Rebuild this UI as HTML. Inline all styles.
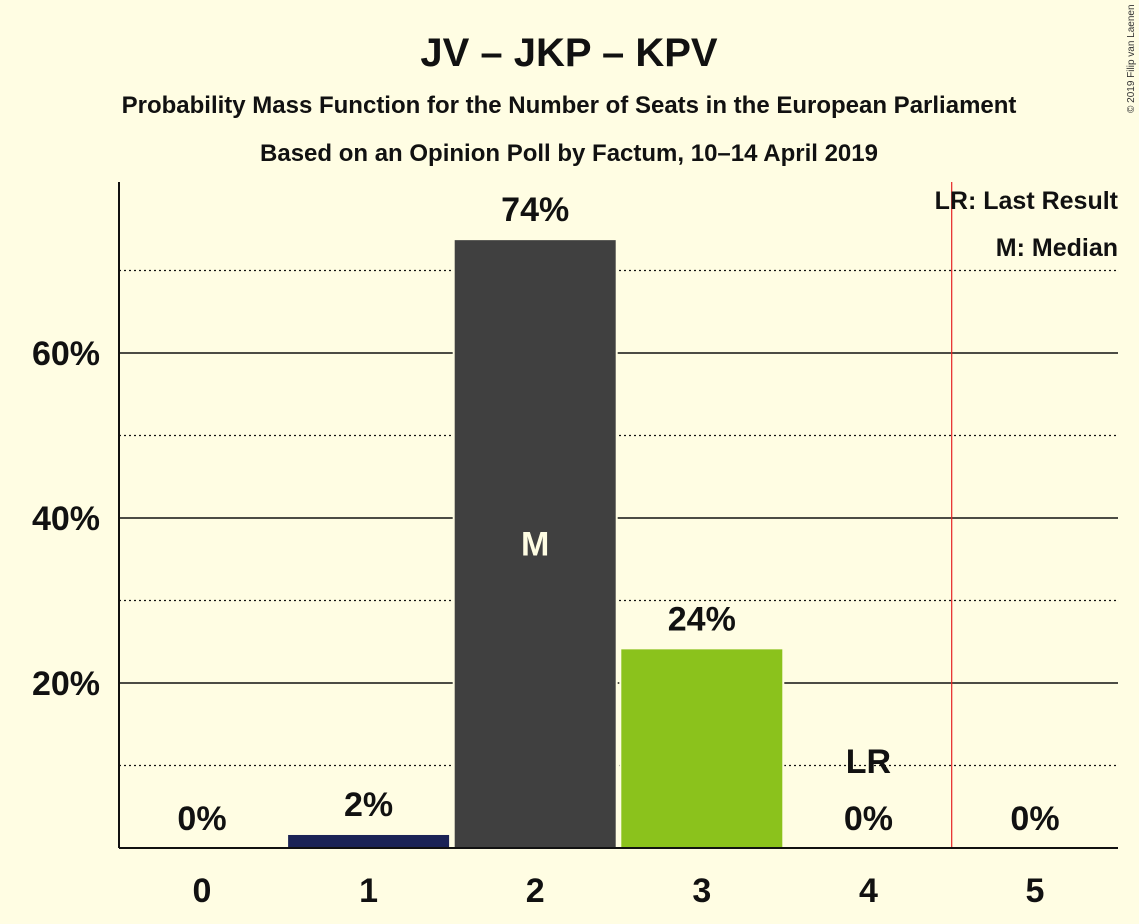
<!DOCTYPE html>
<html><head><meta charset="utf-8"><style>
body{margin:0;background:#fffde3;}
svg{display:block;font-family:"Liberation Sans",sans-serif;}
</style></head><body>
<svg id="chart" width="1139" height="924">
<rect width="1139" height="924" fill="#fffde3"/>
<text x="569" y="66" text-anchor="middle" font-size="40" font-weight="bold" fill="#111">JV – JKP – KPV</text>
<text x="569" y="113" text-anchor="middle" font-size="24" font-weight="bold" fill="#111">Probability Mass Function for the Number of Seats in the European Parliament</text>
<text x="569" y="161" text-anchor="middle" font-size="24" font-weight="bold" fill="#111">Based on an Opinion Poll by Factum, 10–14 April 2019</text>
<text transform="translate(1134,113) rotate(-90)" font-size="10" fill="#333">© 2019 Filip van Laenen</text>
<g id="grid"></g>
<g id="bars"></g>
<g id="axes"></g>
<text x="1118" y="209" text-anchor="end" font-size="25" font-weight="bold" fill="#111">LR: Last Result</text>
<text x="1118" y="256" text-anchor="end" font-size="25" font-weight="bold" fill="#111">M: Median</text>
</svg>
<script>
const categories=[0,1,2,3,4,5];
const values=[0,1.7,73.8,24.2,0,0];
const labels=["0%","2%","74%","24%","0%","0%"];
const colors=["#1b2356","#1b2356","#404040","#8bc21c","#8bc21c","#8bc21c"];
const yTicks=[20,40,60];
const yDotted=[10,30,50,70];
const medianIndex=2, lastResult=4;
const NS="http://www.w3.org/2000/svg";
const x0=119,x1=1118,y0=848,pxPer=8.25,step=166.6,first=202,bw=163;
const X=i=>first+i*step, Y=v=>y0-v*pxPer;
function mk(t,a,p,txt){const e=document.createElementNS(NS,t);for(const k in a)e.setAttribute(k,a[k]);if(txt!=null)e.textContent=txt;p.appendChild(e);return e;}
const g=document.getElementById('grid'),b=document.getElementById('bars'),ax=document.getElementById('axes');
yDotted.forEach(v=>{const l=mk('line',{x1:x0,x2:x1,y1:Y(v),y2:Y(v),stroke:'#111','stroke-width':1.2,'stroke-dasharray':'2,3'},g);

});
yTicks.forEach(v=>{const l=mk('line',{x1:x0,x2:x1,y1:Y(v),y2:Y(v),stroke:'#111','stroke-width':1.5},g);


const t=mk('text',{x:100,y:Y(v)+12,'text-anchor':'end','font-size':34,'font-weight':'bold',fill:'#111'},ax,v+'%');

});
categories.forEach((c,i)=>{const v=values[i];
if(v>0){const r=mk('rect',{x:X(i)-bw/2,y:Y(v),width:bw,height:y0-Y(v),fill:colors[i],stroke:'#fffde3','stroke-width':2},b);

}
const t=mk('text',{x:X(i),y:Y(v)-18,'text-anchor':'middle','font-size':34,'font-weight':'bold',fill:'#111'},b,labels[i]);


const xt=mk('text',{x:X(i),y:902,'text-anchor':'middle','font-size':34,'font-weight':'bold',fill:'#111'},ax,String(c));

});
const m=mk('text',{x:X(medianIndex),y:Y(values[medianIndex]/2)+12,'text-anchor':'middle','font-size':34,'font-weight':'bold',fill:'#fffde3'},b,'M');


const lr=mk('text',{x:X(lastResult),y:773,'text-anchor':'middle','font-size':34,'font-weight':'bold',fill:'#111'},b,'LR');


const rl=mk('line',{x1:X(lastResult)+step/2,x2:X(lastResult)+step/2,y1:182,y2:y0,stroke:'#e52222','stroke-width':1.2},ax);


const ya=mk('line',{x1:x0,x2:x0,y1:182,y2:y0,stroke:'#111','stroke-width':2},ax);


const xa=mk('line',{x1:x0,x2:x1,y1:y0,y2:y0,stroke:'#111','stroke-width':2},ax);


</script>
</body></html>
